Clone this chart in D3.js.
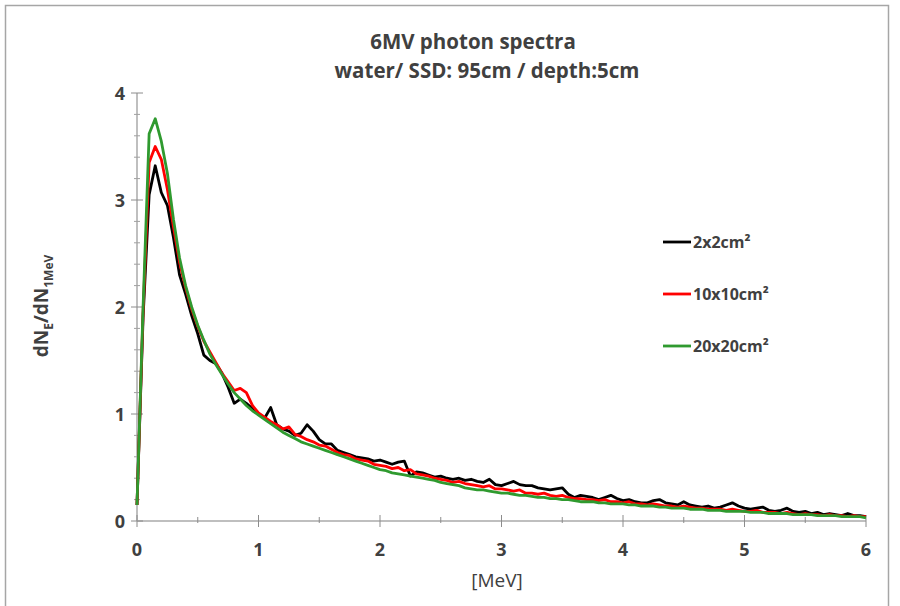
<!DOCTYPE html>
<html>
<head>
<meta charset="utf-8">
<script src="https://cdn.jsdelivr.net/npm/d3@7"></script>
<style>
  body { margin: 0; background: #fff; }
  text { font-family: "Open Sans", "Noto Sans", sans-serif; }
</style>
</head>
<body>
<div id="chart"></div>
<script>
// photon energy grid [MeV]
const energy = [
  0.00,0.05,0.10,0.15,0.20,0.25,0.30,0.35,0.40,0.45,0.50,0.55,0.60,0.65,0.70,0.75,0.80,0.85,0.90,0.95,
  1.00,1.05,1.10,1.15,1.20,1.25,1.30,1.35,1.40,1.45,1.50,1.55,1.60,1.65,1.70,1.75,1.80,1.85,1.90,1.95,
  2.00,2.05,2.10,2.15,2.20,2.25,2.30,2.35,2.40,2.45,2.50,2.55,2.60,2.65,2.70,2.75,2.80,2.85,2.90,2.95,
  3.00,3.05,3.10,3.15,3.20,3.25,3.30,3.35,3.40,3.45,3.50,3.55,3.60,3.65,3.70,3.75,3.80,3.85,3.90,3.95,
  4.00,4.05,4.10,4.15,4.20,4.25,4.30,4.35,4.40,4.45,4.50,4.55,4.60,4.65,4.70,4.75,4.80,4.85,4.90,4.95,
  5.00,5.05,5.10,5.15,5.20,5.25,5.30,5.35,5.40,5.45,5.50,5.55,5.60,5.65,5.70,5.75,5.80,5.85,5.90,5.95,
  6.00
];

// 2x2 cm² field
const field2 = [
  0.15,1.90,3.05,3.32,3.07,2.95,2.65,2.30,2.12,1.92,1.75,1.55,1.50,1.47,1.38,1.25,1.10,1.14,1.10,1.05,
  1.00,0.96,1.06,0.90,0.86,0.84,0.80,0.82,0.90,0.84,0.76,0.72,0.72,0.66,0.64,0.62,0.60,0.59,0.58,0.56,
  0.57,0.55,0.53,0.55,0.56,0.42,0.46,0.45,0.43,0.41,0.42,0.40,0.39,0.40,0.38,0.39,0.37,0.36,0.39,0.34,
  0.33,0.35,0.37,0.34,0.33,0.33,0.31,0.30,0.29,0.30,0.31,0.25,0.22,0.24,0.23,0.22,0.20,0.22,0.24,0.21,
  0.19,0.20,0.18,0.17,0.17,0.19,0.20,0.17,0.16,0.15,0.18,0.15,0.14,0.13,0.14,0.12,0.13,0.15,0.17,0.14,
  0.12,0.11,0.12,0.13,0.10,0.09,0.10,0.12,0.09,0.08,0.09,0.07,0.08,0.06,0.07,0.06,0.05,0.07,0.05,0.05,
  0.04
];

// 10x10 cm² field
const field10 = [
  0.15,1.95,3.35,3.50,3.38,3.10,2.75,2.42,2.18,1.98,1.82,1.68,1.58,1.48,1.38,1.30,1.22,1.24,1.20,1.08,
  1.01,0.97,0.93,0.90,0.86,0.88,0.81,0.79,0.76,0.74,0.71,0.70,0.67,0.64,0.62,0.61,0.58,0.57,0.56,0.53,
  0.52,0.51,0.49,0.50,0.47,0.48,0.44,0.43,0.42,0.40,0.39,0.38,0.36,0.37,0.35,0.34,0.33,0.32,0.33,0.30,
  0.30,0.29,0.28,0.29,0.26,0.26,0.25,0.26,0.24,0.23,0.24,0.22,0.21,0.21,0.20,0.20,0.19,0.20,0.18,0.18,
  0.17,0.18,0.16,0.16,0.15,0.16,0.15,0.14,0.14,0.13,0.14,0.13,0.12,0.12,0.11,0.11,0.11,0.10,0.11,0.10,
  0.09,0.09,0.10,0.08,0.08,0.08,0.07,0.08,0.07,0.06,0.07,0.06,0.06,0.05,0.06,0.05,0.05,0.04,0.05,0.04,
  0.04
];

// 20x20 cm² field
const field20 = [
  0.15,2.00,3.62,3.76,3.55,3.25,2.82,2.46,2.20,2.00,1.83,1.69,1.56,1.46,1.37,1.28,1.20,1.14,1.08,1.03,
  0.99,0.95,0.91,0.87,0.83,0.80,0.77,0.74,0.72,0.70,0.68,0.66,0.64,0.62,0.60,0.58,0.56,0.54,0.52,0.50,
  0.48,0.47,0.45,0.44,0.43,0.42,0.41,0.40,0.39,0.38,0.36,0.35,0.34,0.33,0.31,0.30,0.29,0.29,0.28,0.27,
  0.26,0.26,0.25,0.24,0.24,0.23,0.22,0.22,0.21,0.21,0.20,0.20,0.19,0.18,0.18,0.18,0.17,0.17,0.16,0.16,
  0.16,0.15,0.15,0.14,0.14,0.14,0.13,0.13,0.12,0.12,0.12,0.11,0.11,0.11,0.10,0.10,0.10,0.09,0.09,0.09,
  0.09,0.08,0.08,0.08,0.07,0.07,0.07,0.07,0.06,0.06,0.06,0.06,0.05,0.05,0.05,0.05,0.04,0.04,0.04,0.04,
  0.03
];

const seriesNames = ["2x2cm²", "10x10cm²", "20x20cm²"];
const seriesColors = ["#000000", "#ff0000", "#2f9a2f"];
const xTicks = [0, 1, 2, 3, 4, 5, 6];
const yTicks = [0, 1, 2, 3, 4];

const W = 900, H = 606;
const margin = { top: 93, right: 34, bottom: 85, left: 137 };
const width = W - margin.left - margin.right;
const height = H - margin.top - margin.bottom;

const svg = d3.select("#chart").append("svg")
    .attr("width", W)
    .attr("height", H);

// outer frame
svg.append("rect")
    .attr("x", 5.5).attr("y", 5.5)
    .attr("width", 883).attr("height", 610)
    .attr("fill", "none")
    .attr("stroke", "#a6a6a6")
    .attr("stroke-width", 1.5);

const g = svg.append("g")
    .attr("transform", `translate(${margin.left},${margin.top})`);

const x = d3.scaleLinear().domain([0, 6]).range([0, width]);
const y = d3.scaleLinear().domain([0, 4]).range([height, 0]);

// axis lines
g.append("line")
    .attr("x1", 0).attr("x2", width)
    .attr("y1", y(0)).attr("y2", y(0))
    .attr("stroke", "#bfbfbf").attr("stroke-width", 2);
g.append("line")
    .attr("x1", 0).attr("x2", 0)
    .attr("y1", y(0)).attr("y2", y(4))
    .attr("stroke", "#bfbfbf").attr("stroke-width", 2);

// x ticks (major cross, minor at halves)
const xMinor = d3.range(0.5, 6, 1);
g.selectAll(".xmaj").data(xTicks).enter().append("line")
    .attr("x1", d => x(d)).attr("x2", d => x(d))
    .attr("y1", y(0) - 6).attr("y2", y(0) + 6)
    .attr("stroke", "#8c8c8c").attr("stroke-width", 1);
g.selectAll(".xmin").data(xMinor).enter().append("line")
    .attr("x1", d => x(d)).attr("x2", d => x(d))
    .attr("y1", y(0) - 4).attr("y2", y(0) + 2)
    .attr("stroke", "#8c8c8c").attr("stroke-width", 1);

// y ticks (major cross, minor every 0.2)
const yMinor = d3.range(0.2, 4, 0.2).filter(v => Math.abs(v - Math.round(v)) > 0.01);
g.selectAll(".ymaj").data(yTicks).enter().append("line")
    .attr("x1", -6).attr("x2", 6)
    .attr("y1", d => y(d)).attr("y2", d => y(d))
    .attr("stroke", "#8c8c8c").attr("stroke-width", 1);
g.selectAll(".ymin").data(yMinor).enter().append("line")
    .attr("x1", -3).attr("x2", 3)
    .attr("y1", d => y(d)).attr("y2", d => y(d))
    .attr("stroke", "#a0a0a0").attr("stroke-width", 1);

// tick labels
g.selectAll(".xlab").data(xTicks).enter().append("text")
    .attr("x", d => x(d)).attr("y", y(0) + 35)
    .attr("text-anchor", "middle")
    .attr("font-size", 18).attr("font-weight", "bold")
    .attr("fill", "#404040")
    .text(d => d);
g.selectAll(".ylab").data(yTicks).enter().append("text")
    .attr("x", -12).attr("y", d => y(d) + 7)
    .attr("text-anchor", "end")
    .attr("font-size", 18).attr("font-weight", "bold")
    .attr("fill", "#404040")
    .text(d => d);

// series lines
const series = [field2, field10, field20];
const line = d3.line()
    .x((d, i) => x(energy[i]))
    .y(d => y(d));

g.selectAll(".series").data(series).enter().append("path")
    .attr("d", d => line(d))
    .attr("fill", "none")
    .attr("stroke", (d, i) => seriesColors[i])
    .attr("stroke-width", 2.8)
    .attr("stroke-linejoin", "round");

// title
svg.append("text")
    .attr("x", 473).attr("y", 49)
    .attr("text-anchor", "middle")
    .attr("font-size", 20.5).attr("font-weight", "bold")
    .attr("fill", "#404040")
    .text("6MV photon spectra");
svg.append("text")
    .attr("x", 487).attr("y", 78)
    .attr("text-anchor", "middle")
    .attr("font-size", 20.5).attr("font-weight", "bold")
    .attr("fill", "#404040")
    .text("water/ SSD: 95cm / depth:5cm");

// axis titles
svg.append("text")
    .attr("x", 497).attr("y", 587)
    .attr("text-anchor", "middle")
    .attr("font-size", 19)
    .attr("fill", "#404040")
    .text("[MeV]");

const yTitle = svg.append("text")
    .attr("transform", "translate(48,306) rotate(-90)")
    .attr("text-anchor", "middle")
    .attr("font-size", 19).attr("font-weight", "bold")
    .attr("fill", "#404040");
yTitle.append("tspan").text("dN");
yTitle.append("tspan").attr("font-size", 12).attr("dy", 5).text("E");
yTitle.append("tspan").attr("dy", -5).text("/dN");
yTitle.append("tspan").attr("font-size", 12).attr("dy", 5).text("1MeV");

// legend
const legend = svg.append("g")
    .attr("transform", "translate(663,242)");
legend.selectAll(".lg-line").data(seriesNames).enter().append("line")
    .attr("x1", 0).attr("x2", 28)
    .attr("y1", (d, i) => i * 52).attr("y2", (d, i) => i * 52)
    .attr("stroke", (d, i) => seriesColors[i])
    .attr("stroke-width", 2.8);
legend.selectAll(".lg-text").data(seriesNames).enter().append("text")
    .attr("x", 30).attr("y", (d, i) => i * 52 + 6)
    .attr("font-size", 16).attr("font-weight", "bold")
    .attr("fill", "#404040")
    .text(d => d);
</script>
</body>
</html>
